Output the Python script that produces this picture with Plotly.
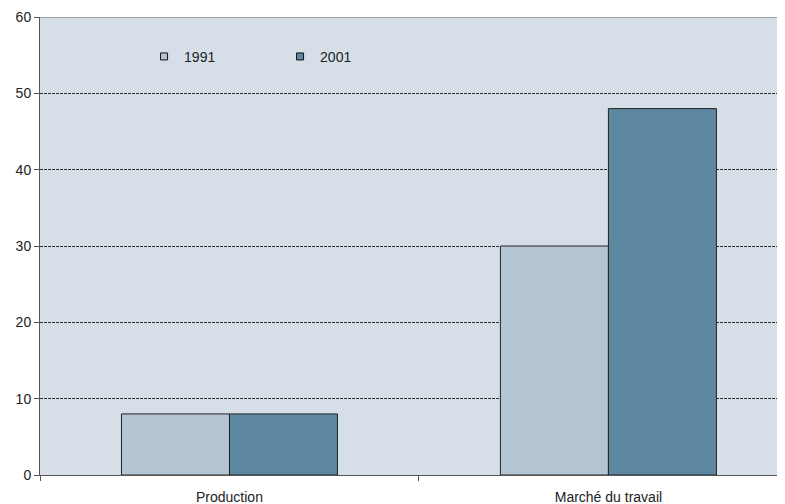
import plotly.graph_objects as go

categories = ["Production", "Marché du travail"]
series_names = ["1991", "2001"]
values_1991 = [8, 30]
values_2001 = [8, 48]
y_ticks = [0, 10, 20, 30, 40, 50, 60]

colors = ["#B4C6D4", "#5E87A1"]

fig = go.Figure()
for name, vals, col in zip(series_names, [values_1991, values_2001], colors):
    fig.add_trace(go.Bar(
        x=categories, y=vals, name=name, showlegend=False,
        marker=dict(color=col, line=dict(color="#222222", width=1)),
    ))
# legend entries with small square symbols
for name, col in zip(series_names, colors):
    fig.add_trace(go.Scatter(
        x=[None], y=[None], mode="markers", name=name,
        marker=dict(symbol="square", size=7, color=col, line=dict(color="#111111", width=1)),
    ))

fig.update_layout(
    width=777, height=496,
    margin=dict(l=32, r=0, t=9, b=29),
    paper_bgcolor="white",
    plot_bgcolor="#D6DFE8",
    barmode="group",
    bargap=0.43,
    bargroupgap=0,
    font=dict(family="Liberation Sans, Arial, sans-serif", size=14, color="#222222"),
    showlegend=True,
    legend=dict(
        orientation="h", x=0.1397, y=0.913, xanchor="left", yanchor="middle",
        bgcolor="rgba(0,0,0,0)", entrywidth=91, entrywidthmode="pixels",
        itemwidth=30, font=dict(size=14, color="#222222"),
    ),
    xaxis=dict(
        range=[-0.5, 1.466],
        showline=True, linecolor="#555555", linewidth=1,
        ticks="outside", ticklen=5, tickcolor="#555555",
        tickson="boundaries", showgrid=False,
        ticklabelstandoff=9, automargin=False,
        tickfont=dict(size=14, color="#222222"),
    ),
    yaxis=dict(
        range=[0, 60], tickvals=y_ticks,
        showline=True, linecolor="#555555", linewidth=1,
        ticks="outside", ticklen=5, tickcolor="#555555",
        showgrid=True, gridcolor="#333333", gridwidth=1, griddash="3px,1px",
        zeroline=False, automargin=False,
        tickfont=dict(size=14, color="#222222"),
    ),
)

fig.add_shape(type="line", xref="paper", yref="y", x0=0, x1=1, y0=60, y1=60,
              line=dict(color="#A0A0A0", width=2), layer="above")

fig.write_html("out.html")
